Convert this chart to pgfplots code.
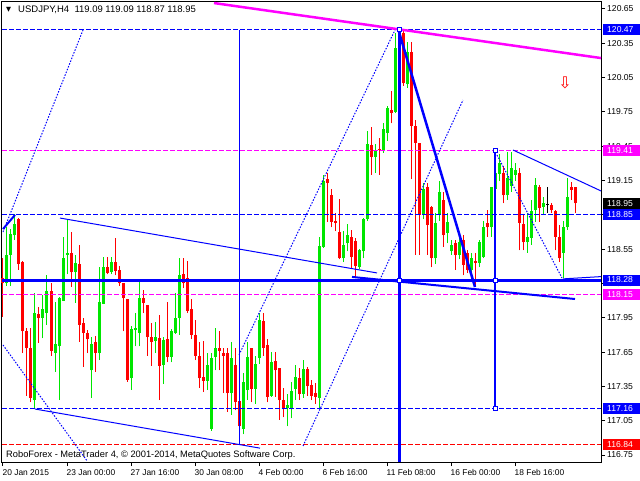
\documentclass[border=0pt]{standalone}
\usepackage{fontspec}
\setmainfont{Liberation Sans}
\newfontfamily\djv{DejaVu Sans}
\usepackage{pgfplots}
\usepackage{pgfplotstable}
\pgfplotsset{compat=1.18}
\definecolor{cgreen}{RGB}{0,230,0}
\definecolor{cred}{RGB}{255,0,0}
\definecolor{cblue}{RGB}{0,0,255}
\definecolor{cmag}{RGB}{255,0,255}

\pgfplotstableread{
i o h l c
1 118.25 118.74 118.23 118.50
2 118.50 118.73 118.23 118.68
3 118.67 118.86 118.63 118.77
8 117.23 118.17 117.16 117.99
10 117.95 118.15 117.77 118.03
11 117.99 118.32 117.89 118.18
13 117.64 118.09 117.48 117.72
14 117.70 118.13 117.23 118.12
15 118.10 118.66 118.10 118.47
16 118.50 118.81 118.33 118.52
18 118.35 118.50 118.08 118.43
22 117.49 117.78 117.25 117.72
24 117.64 118.39 117.58 118.09
25 118.07 118.48 118.07 118.39
27 118.35 118.48 118.33 118.44
32 117.42 117.88 117.32 117.85
33 117.84 117.99 117.70 117.86
34 117.82 118.26 117.70 118.12
38 117.75 117.91 117.64 117.78
40 117.54 117.78 117.37 117.76
42 117.61 117.85 117.56 117.83
43 117.82 118.17 117.81 117.95
44 117.95 118.47 117.80 118.32
51 117.40 117.64 117.32 117.54
52 116.98 117.64 116.96 117.60
53 117.61 117.86 117.49 117.69
57 117.29 117.74 117.10 117.60
60 116.98 117.47 116.93 117.39
61 117.32 117.74 117.23 117.61
63 117.33 117.62 117.20 117.55
64 117.60 117.99 117.55 117.93
67 117.27 117.65 117.26 117.56
71 117.16 117.28 117.00 117.19
72 117.16 117.39 117.07 117.31
73 117.33 117.54 117.23 117.43
75 117.28 117.58 117.25 117.50
79 117.25 118.66 117.16 118.58
80 118.57 119.20 118.56 119.15
85 118.47 118.71 118.44 118.59
86 118.60 118.77 118.53 118.67
89 118.39 118.55 118.38 118.54
90 118.53 118.82 118.47 118.81
91 118.81 119.58 118.80 119.47
93 119.36 119.47 119.22 119.41
95 119.42 119.65 119.39 119.60
96 119.57 119.80 119.50 119.78
98 119.75 120.44 119.74 120.31
99 120.29 120.47 120.00 120.42
101 119.99 120.36 119.96 120.27
105 118.85 119.13 118.81 119.08
108 118.47 118.87 118.42 118.78
109 118.85 119.15 118.80 119.05
111 118.69 118.87 118.60 118.79
112 118.53 118.63 118.50 118.59
114 118.50 118.65 118.46 118.61
117 118.37 118.52 118.34 118.47
119 118.43 118.63 118.39 118.61
120 118.48 118.80 118.47 118.74
122 118.74 119.09 118.66 119.09
123 119.08 119.41 119.07 119.22
124 119.21 119.38 119.15 119.30
126 119.02 119.40 118.98 119.17
127 119.10 119.40 119.05 119.26
128 119.20 119.30 119.15 119.24
131 118.61 118.87 118.52 118.66
132 118.65 118.98 118.59 118.88
133 118.89 119.17 118.79 119.11
135 118.92 119.01 118.85 118.95
140 118.52 118.80 118.30 118.74
141 118.74 119.17 118.72 119.01
}\greenc

\pgfplotstableread{
i o h l c
0 118.30 118.47 117.96 118.25
4 118.81 118.82 118.37 118.42
5 118.44 118.45 117.64 117.83
6 117.83 117.86 117.27 117.69
7 117.69 117.86 117.21 117.25
9 117.98 118.04 117.73 117.95
12 118.18 118.25 117.62 117.66
17 118.52 118.70 118.22 118.35
19 118.42 118.59 117.74 117.89
20 117.90 117.95 117.52 117.82
21 117.82 117.84 117.64 117.76
23 117.74 117.79 117.48 117.64
26 118.39 118.48 118.33 118.34
28 118.44 118.65 118.32 118.36
29 118.37 118.40 118.23 118.25
30 118.25 118.25 117.83 118.12
31 118.11 118.11 117.39 117.41
35 118.12 118.19 117.99 118.08
36 118.06 118.06 117.62 117.78
37 117.78 117.90 117.53 117.74
39 117.77 117.97 117.23 117.53
41 117.76 118.09 117.56 117.61
45 118.33 118.47 118.21 118.25
46 118.30 118.45 117.99 118.01
47 118.03 118.11 117.76 117.80
48 117.80 117.93 117.58 117.62
49 117.62 117.74 117.34 117.42
50 117.43 117.75 117.30 117.40
54 117.69 117.83 117.49 117.66
55 117.64 117.69 117.29 117.62
56 117.64 117.69 117.13 117.29
58 117.54 117.69 117.14 117.21
59 117.22 117.42 116.88 117.00
62 117.69 117.69 117.21 117.33
65 117.92 117.99 117.62 117.69
66 117.71 117.76 117.21 117.26
68 117.57 117.65 117.26 117.49
69 117.51 117.51 117.06 117.23
70 117.23 117.34 117.08 117.15
74 117.42 117.51 117.23 117.28
76 117.50 117.52 117.27 117.35
77 117.36 117.41 117.23 117.27
78 117.29 117.38 117.20 117.26
81 119.16 119.22 118.79 119.13
82 119.02 119.08 118.74 118.79
83 118.80 118.87 118.71 118.78
84 118.70 118.99 118.46 118.47
87 118.66 118.72 118.38 118.48
88 118.62 118.65 118.31 118.40
92 119.46 119.62 119.20 119.36
94 119.43 119.52 119.20 119.42
97 119.77 119.93 119.65 119.74
100 120.44 120.46 119.98 120.00
102 120.27 120.36 119.16 119.63
103 119.63 119.68 118.50 119.48
104 119.48 119.48 118.50 118.85
106 119.09 119.13 118.50 118.76
107 118.92 118.93 118.39 118.47
110 118.98 119.05 118.57 118.67
113 118.60 118.63 118.37 118.50
115 118.63 118.67 118.32 118.41
116 118.52 118.54 118.34 118.37
118 118.45 118.52 118.22 118.43
121 118.78 118.89 118.66 118.74
125 119.22 119.28 118.95 119.02
129 119.22 119.26 118.54 118.78
130 118.77 118.85 118.54 118.61
134 119.09 119.11 118.79 118.91
137 118.94 118.95 118.87 118.89
138 118.88 118.89 118.54 118.66
139 118.66 118.76 118.44 118.47
142 119.09 119.14 118.98 119.07
143 119.09 119.09 118.87 118.95
}\redc

\pgfplotstableread{
i o h l c
136 118.94 119.09 118.87 118.94
}\blackc

\pgfplotsset{
  candlebase/.style={draw=none, no markers, forget plot},
}

\begin{document}
\begin{tikzpicture}
\path[use as bounding box] (0pt,0pt) rectangle (640pt,480pt);
\begin{axis}[
  at={(2pt,18pt)}, anchor=south west,
  scale only axis, width=599pt, height=460pt,
  xmin=-0.25, xmax=149.5, ymin=116.6888, ymax=120.7112,
  clip=false,
  axis line style={black, line width=1pt},
  xtick pos=left, ytick pos=right,
  tick align=outside, major tick length=4pt,
  tick style={black, line width=1pt},
  xtick={0,16,32,48,64,80,96,112,128},
  xticklabels={20 Jan 2015,23 Jan 00:00,27 Jan 16:00,30 Jan 08:00,4 Feb 00:00,6 Feb 16:00,11 Feb 08:00,16 Feb 00:00,18 Feb 16:00},
  ytick={116.75,117.05,117.35,117.65,117.95,118.25,118.55,118.85,119.15,119.45,119.75,120.05,120.35,120.65},
  yticklabels={116.75,117.05,117.35,117.65,117.95,118.25,118.55,118.85,119.15,119.45,119.75,120.05,120.35,120.65},
  xticklabel style={anchor=north west, inner sep=0pt, yshift=-3pt, xshift=-0.5pt, font=\fontsize{8.4}{10}\selectfont},
  yticklabel style={anchor=west, inner sep=0pt, xshift=2pt, font=\fontsize{8.6}{10}\selectfont},
]
% candles: wicks
\addplot[candlebase, error bars/.cd, y dir=plus, y explicit, error mark=none, error bar style={line width=1pt, draw=cgreen}] table[x=i, y=l, y error plus expr=\thisrow{h}-\thisrow{l}] {\greenc};
\addplot[candlebase, error bars/.cd, y dir=plus, y explicit, error mark=none, error bar style={line width=1pt, draw=cred}] table[x=i, y=l, y error plus expr=\thisrow{h}-\thisrow{l}] {\redc};
\addplot[candlebase, error bars/.cd, y dir=plus, y explicit, error mark=none, error bar style={line width=1pt, draw=black}] table[x=i, y=l, y error plus expr=\thisrow{h}-\thisrow{l}] {\blackc};
% bodies
\addplot[candlebase, error bars/.cd, y dir=plus, y explicit, error mark=none, error bar style={line width=3pt, draw=cgreen}] table[x=i, y=o, y error plus expr=\thisrow{c}-\thisrow{o}] {\greenc};
\addplot[candlebase, error bars/.cd, y dir=plus, y explicit, error mark=none, error bar style={line width=3pt, draw=cred}] table[x=i, y=c, y error plus expr=\thisrow{o}-\thisrow{c}] {\redc};
\addplot[only marks, mark=-, mark size=1.5pt, black, line width=1pt, forget plot] table[x=i, y=o] {\blackc};

% horizontal levels
\addplot[cblue, line width=1pt, dash pattern=on 5pt off 2pt] coordinates {(-0.25,120.47) (149.5,120.47)};
\addplot[cmag, line width=1pt, dash pattern=on 5pt off 2pt] coordinates {(-0.25,119.41) (149.5,119.41)};
\addplot[cblue, line width=1pt, dash pattern=on 5pt off 2pt] coordinates {(-0.25,118.85) (149.5,118.85)};
\addplot[cblue, line width=3pt] coordinates {(-0.25,118.28) (149.5,118.28)};
\addplot[cmag, line width=1pt, dash pattern=on 5pt off 2pt] coordinates {(-0.25,118.15) (149.5,118.15)};
\addplot[cblue, line width=1pt, dash pattern=on 5pt off 2pt] coordinates {(-0.25,117.16) (149.5,117.16)};
\addplot[cred, line width=1pt, dash pattern=on 5pt off 2pt] coordinates {(-0.25,116.84) (149.5,116.84)};

% vertical lines
\addplot[cblue, line width=1pt] coordinates {(59,120.47) (59,116.84)};
\addplot[cblue, line width=3pt] coordinates {(99,120.47) (99,116.6888)};
\addplot[cblue, line width=2.5pt] coordinates {(123,119.41) (123,117.16)};

% trend lines
\addplot[cmag, line width=2.5pt] coordinates {(52.75,120.702) (149.5,120.221)};
\addplot[cblue, line width=1pt] coordinates {(14.25,118.822) (93.5,118.342)};
\addplot[cblue, line width=2pt] coordinates {(87.25,118.307) (143,118.114)};
\addplot[cblue, line width=1pt] coordinates {(140,118.29) (149.5,118.31)};
\addplot[cblue, line width=2.5pt] coordinates {(99,120.449) (118,118.219)};
\addplot[cblue, line width=1pt] coordinates {(127.5,119.417) (149.5,119.059)};
\addplot[cblue, line width=2pt] coordinates {(0,118.726) (3,118.849)};
\addplot[cblue, line width=1pt] coordinates {(8,117.152) (64.25,116.81)};
% dotted
\addplot[cblue, line width=1pt, dash pattern=on 1.5pt off 1.5pt] coordinates {(0,118.70) (20,120.466)};
\addplot[cblue, line width=1pt, dash pattern=on 1.5pt off 1.5pt] coordinates {(0,117.712) (21,116.70)};
\addplot[cblue, line width=1pt, dash pattern=on 1.5pt off 1.5pt] coordinates {(59,117.625) (98,120.466)};
\addplot[cblue, line width=1pt, dash pattern=on 1.5pt off 1.5pt] coordinates {(75,116.829) (115,119.854)};
\addplot[cblue, line width=1pt, dash pattern=on 1.5pt off 1.5pt] coordinates {(123.5,119.373) (139.75,118.298)};

% markers
\addplot[only marks, mark=square*, mark size=2pt, cblue, line width=1pt, mark options={fill=white}] coordinates {(99,120.47) (99,118.28) (123,119.41) (123,118.28) (123,117.16)};

\node[text=cred, inner sep=0pt, font=\djv\fontsize{16}{16}\selectfont] at (axis cs:140.5,120.00) {⇩};
\end{axis}

% header and footer
\node[anchor=west, inner sep=0pt, font=\djv\fontsize{6.5}{7}\selectfont] at (6pt,470pt) {▼};
\node[anchor=west, inner sep=0pt, font=\fontsize{9.5}{11}\selectfont] at (18pt,470pt) {USDJPY,H4\ \ 119.09 119.09 118.87 118.95};
\node[anchor=west, inner sep=0pt, font=\fontsize{9.3}{11}\selectfont] at (6pt,25pt) {RoboForex - MetaTrader 4, © 2001-2014, MetaQuotes Software Corp.};

% price boxes
\fill[cblue] (603pt,445pt) rectangle (640pt,456pt);
\node[anchor=west, inner sep=0pt, text=white, font=\fontsize{8.6}{10}\selectfont] at (607pt,450.4pt) {120.47};
\fill[cmag] (603pt,323.7pt) rectangle (640pt,334.7pt);
\node[anchor=west, inner sep=0pt, text=white, font=\fontsize{8.6}{10}\selectfont] at (607pt,329.2pt) {119.41};
\fill[black] (603pt,271.1pt) rectangle (640pt,282.1pt);
\node[anchor=west, inner sep=0pt, text=white, font=\fontsize{8.6}{10}\selectfont] at (607pt,276.6pt) {118.95};
\fill[cblue] (603pt,259.7pt) rectangle (640pt,270.7pt);
\node[anchor=west, inner sep=0pt, text=white, font=\fontsize{8.6}{10}\selectfont] at (607pt,265.2pt) {118.85};
\fill[cblue] (603pt,194.5pt) rectangle (640pt,205.5pt);
\node[anchor=west, inner sep=0pt, text=white, font=\fontsize{8.6}{10}\selectfont] at (607pt,200pt) {118.28};
\fill[cmag] (603pt,179.6pt) rectangle (640pt,190.6pt);
\node[anchor=west, inner sep=0pt, text=white, font=\fontsize{8.6}{10}\selectfont] at (607pt,185.1pt) {118.15};
\fill[cblue] (603pt,66.4pt) rectangle (640pt,77.4pt);
\node[anchor=west, inner sep=0pt, text=white, font=\fontsize{8.6}{10}\selectfont] at (607pt,71.9pt) {117.16};
\fill[cred] (603pt,29.8pt) rectangle (640pt,40.8pt);
\node[anchor=west, inner sep=0pt, text=white, font=\fontsize{8.6}{10}\selectfont] at (607pt,35.3pt) {116.84};
\end{tikzpicture}
\end{document}
